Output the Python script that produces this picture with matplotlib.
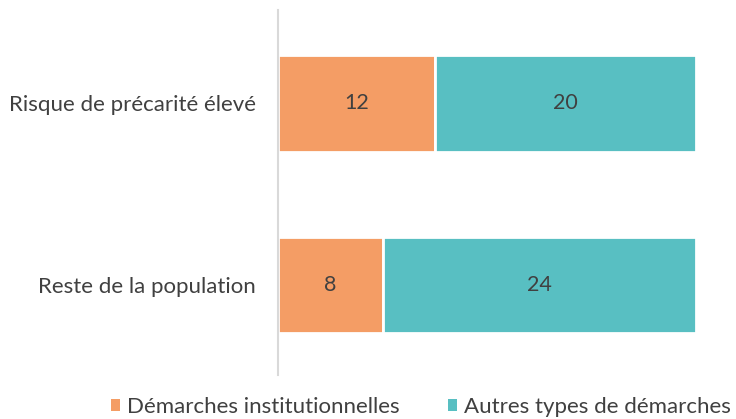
import matplotlib
matplotlib.use("Agg")
import matplotlib.pyplot as plt
from matplotlib.patches import Patch

categories = ["Reste de la population", "Risque de précarité élevé"]
series_names = ["Démarches institutionnelles", "Autres types de démarches"]
institutionnelles = [8, 12]
autres = [24, 20]
colors = ["#F49D65", "#58BFC2"]

plt.rcParams['font.family'] = ['Lato', 'DejaVu Sans']
fig = plt.figure(figsize=(7.36, 4.19), dpi=100)
ax = fig.add_axes([278/736, 1-375/419, (696-278)/736, 365/419])

ypos = list(range(len(categories)))
h = 0.53
b1 = ax.barh(ypos, institutionnelles, height=h, color=colors[0], edgecolor="white", linewidth=2)
b2 = ax.barh(ypos, autres, left=institutionnelles, height=h, color=colors[1], edgecolor="white", linewidth=2)
for bars in (b1, b2):
    ax.bar_label(bars, labels=[str(int(b.get_width())) for b in bars], label_type="center",
                 fontsize=15.5, color="#404040")

ax.set_xlim(0, 32)
ax.set_ylim(-0.495, 1.514)
ax.set_yticks(ypos)
ax.set_yticklabels(categories, fontsize=16, color="#404040")
ax.tick_params(axis="y", length=0, pad=16)
ax.set_xticks([])
for s in ["top", "right", "bottom"]:
    ax.spines[s].set_visible(False)
ax.spines["left"].set_color("#D9D9D9")
ax.spines["left"].set_linewidth(1.5)

handles = [Patch(facecolor=colors[0]), Patch(facecolor=colors[1])]
fig.legend(handles, series_names, loc="center", bbox_to_anchor=(421/736, 1-407/419), ncol=2,
           frameon=False, fontsize=16, labelcolor="#404040", handlelength=0.4, handleheight=0.4,
           handletextpad=0.3, columnspacing=2.2, borderpad=0.1)

fig.savefig("out.png", dpi=100)
